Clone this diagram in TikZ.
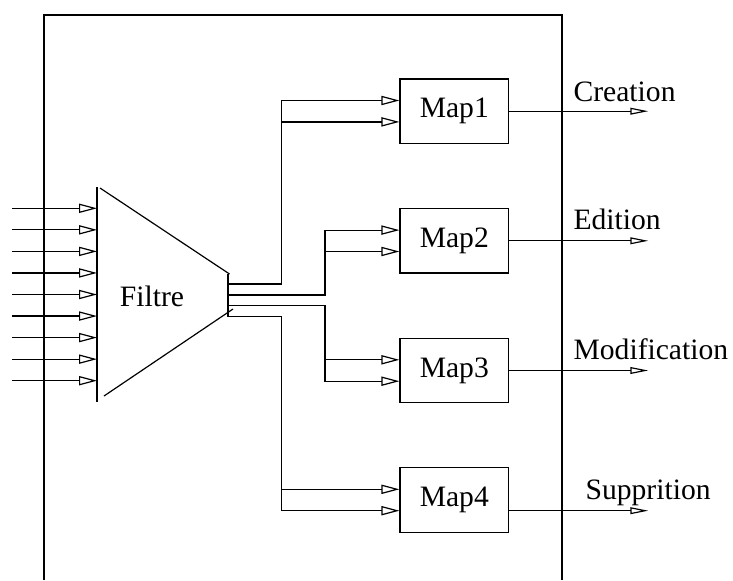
\documentclass[tikz,border=0pt]{standalone}
\usepackage{fontspec}
\setmainfont{Liberation Serif}
\usetikzlibrary{arrows.meta}

\begin{document}
\begin{tikzpicture}[x=5pt,y=5pt,line width=0.6pt]


\tikzset{map/.style={draw,minimum width=54.3pt,minimum height=32.2pt,inner sep=0pt,font=\fontsize{14.8}{17}\selectfont},}
\tikzset{label/.style={anchor=base west,inner sep=0pt,font=\fontsize{14.8}{17}\selectfont},}
\tikzset{entree/.style={-{Triangle[open,length=9pt,width=4.6pt]}}}
\tikzset{sortie/.style={-{Triangle[open,length=9pt,width=3.4pt]}}}

	\useasboundingbox (0,0) rectangle (73.3,58);

	% cadre
	\draw (4.4,0) -- (4.4,56.5) -- (56.2,56.5) -- (56.2,0);

	% filtre
	\draw (9.7,39.3) -- (9.7,17.8);
	\draw (10.0,39.2) -- (22.95,30.6);
	\draw (10.4,18.4) -- (23.3,27.1);
	\draw (22.8,30.6) -- (22.8,26.3);
	\draw (15.2,28.4) node[font=\fontsize{14.8}{17}\selectfont] (filtre) {Filtre};

	% entrees
	\foreach \i in {0,...,8}{
		\coordinate (e\i) at (1.2,37.17-2.155*\i);
		\coordinate (f\i) at (9.7,37.17-2.155*\i);
		\draw[entree] (e\i) -- (f\i);
	}

	\draw
		(45.43,46.88) node[map] (m1) {Map1}
		(45.43,33.92) node[map] (m2) {Map2}
		(45.43,20.95) node[map] (m3) {Map3}
		(45.43,8.0) node[map] (m4) {Map4};

	\coordinate (o1) at (22.8,29.6);
	\coordinate (o2) at (22.8,28.5);
	\coordinate (o3) at (22.8,27.43);
	\coordinate (o4) at (22.8,26.33);
	\coordinate (x1) at (28.17,0);
	\coordinate (x2) at (32.5,0);
	\foreach \m in {m1,m2,m3,m4}{
		\coordinate (\m a) at ([yshift=5.35pt]\m.west);
		\coordinate (\m b) at ([yshift=-5.35pt]\m.west);
	}

	\draw[entree] (o1) -| (x1 |- m1a) -- (m1a);\draw[entree] (x1 |- m1b) -- (m1b);
	\draw[entree] (o2) -| (x2 |- m2a) -- (m2a);\draw[entree] (x2 |- m2b) -- (m2b);
	\draw[entree] (o3) -| (x2 |- m3b) -- (m3b);\draw[entree] (x2 |- m3a) -- (m3a);
	\draw[entree] (o4) -| (x1 |- m4b) -- (m4b);\draw[entree] (x1 |- m4a) -- (m4a);

	% sorties
	\coordinate (s) at (64.83,0);
	\draw[sortie] (m1.east) -- (m1.east -| s);\draw(57.3,47.83)node[label] (creation) {Creation};
	\draw[sortie] (m2.east) -- (m2.east -| s);\draw(57.3,35.07)node[label] (edition) {Edition};
	\draw[sortie] (m3.east) -- (m3.east -| s);\draw(57.3,22.07)node[label] (modification) {Modification};
	\draw[sortie] (m4b -| m4.east) -- (m4b -| s);\draw(58.5,8.1)node[label] (supprition) {Supprition};

\end{tikzpicture}
\end{document}
